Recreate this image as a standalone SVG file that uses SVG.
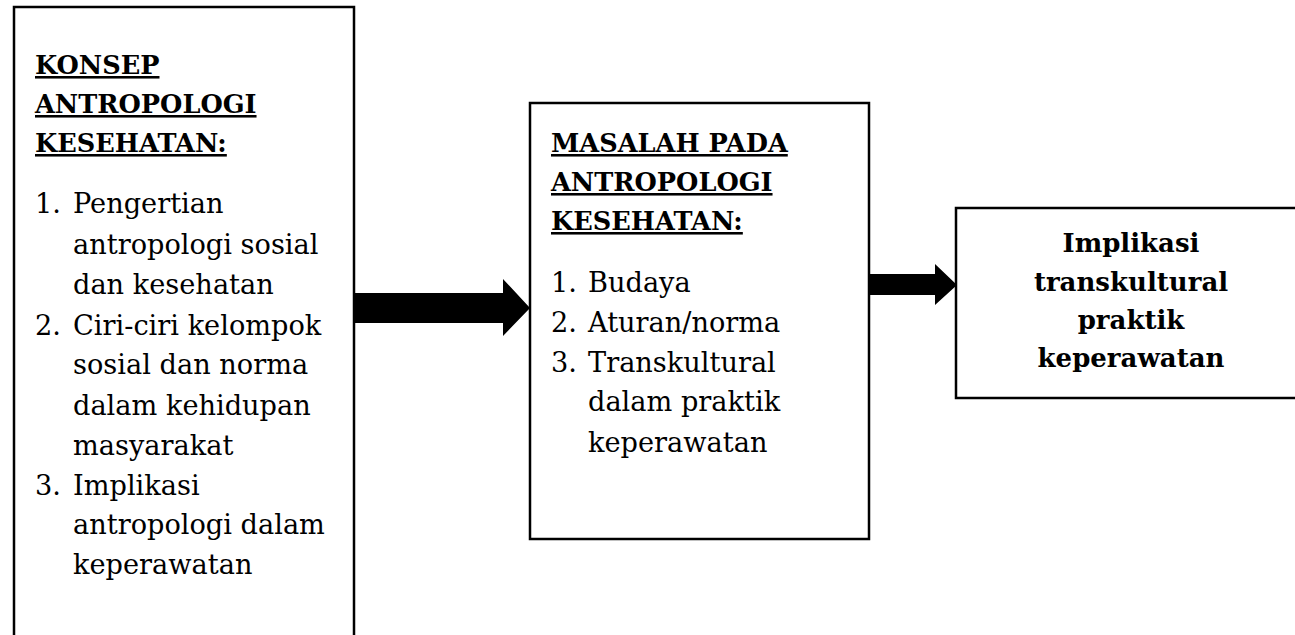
<svg xmlns="http://www.w3.org/2000/svg" width="1295" height="635" viewBox="0 0 1295 635">
<style>
.box{fill:#fff;stroke:#000;stroke-width:2.5}
.t{font-family:"DejaVu Serif","Liberation Serif",serif;font-size:27.2px;fill:#000}
.h{font-family:"DejaVu Serif","Liberation Serif",serif;font-size:25.6px;font-weight:bold;text-decoration:underline;fill:#000}
.b{font-family:"DejaVu Serif","Liberation Serif",serif;font-size:26px;font-weight:bold;fill:#000;text-anchor:middle}
.arrow{fill:#000}
</style>
<rect width="1295" height="635" fill="#fff"/>
<g id="connectors">
<polygon class="arrow" points="354,293 503,293 503,279 530,308 503,336 503,323 354,323"/>
<polygon class="arrow" points="870,274 935,274 935,264 957,285 935,305 935,295 870,295"/>
</g>
<g id="node-konsep">
<rect class="box" x="14" y="7" width="340" height="640"/>
<text class="h" x="35" y="74">KONSEP</text>
<text class="h" x="35" y="113">ANTROPOLOGI</text>
<text class="h" x="35" y="152">KESEHATAN:</text>
<text class="t" x="35" y="213">1.</text>
<text class="t" x="73" y="213">Pengertian</text>
<text class="t" x="73" y="254">antropologi sosial</text>
<text class="t" x="73" y="294">dan kesehatan</text>
<text class="t" x="35" y="335">2.</text>
<text class="t" x="73" y="335">Ciri-ciri kelompok</text>
<text class="t" x="73" y="374">sosial dan norma</text>
<text class="t" x="73" y="415">dalam kehidupan</text>
<text class="t" x="73" y="455">masyarakat</text>
<text class="t" x="35" y="495">3.</text>
<text class="t" x="73" y="495">Implikasi</text>
<text class="t" x="73" y="534">antropologi dalam</text>
<text class="t" x="73" y="574">keperawatan</text>
</g>
<g id="node-masalah">
<rect class="box" x="530" y="103" width="339" height="436"/>
<text class="h" x="551" y="152">MASALAH PADA</text>
<text class="h" x="551" y="191">ANTROPOLOGI</text>
<text class="h" x="551" y="230">KESEHATAN:</text>
<text class="t" x="551" y="292">1.</text>
<text class="t" x="588" y="292">Budaya</text>
<text class="t" x="551" y="332">2.</text>
<text class="t" x="588" y="332">Aturan/norma</text>
<text class="t" x="551" y="372">3.</text>
<text class="t" x="588" y="372">Transkultural</text>
<text class="t" x="588" y="411">dalam praktik</text>
<text class="t" x="588" y="452">keperawatan</text>
</g>
<g id="node-implikasi">
<rect class="box" x="956" y="208" width="360" height="190"/>
<text class="b" x="1131" y="252">Implikasi</text>
<text class="b" x="1131" y="291">transkultural</text>
<text class="b" x="1131" y="329">praktik</text>
<text class="b" x="1131" y="367">keperawatan</text>
</g>
</svg>
